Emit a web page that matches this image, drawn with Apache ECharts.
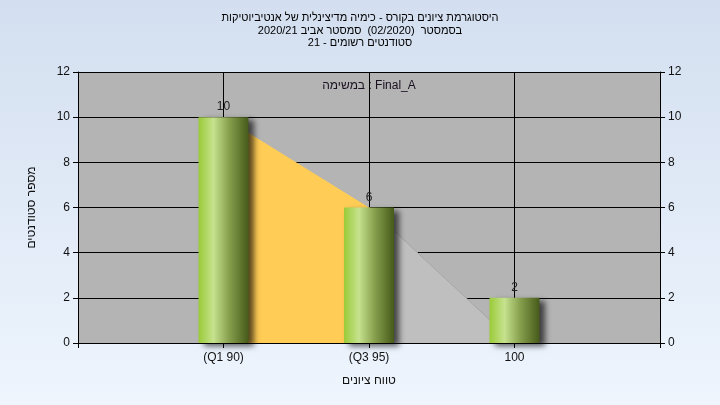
<!DOCTYPE html>
<html>
<head>
<meta charset="utf-8">
<script src="https://cdn.jsdelivr.net/npm/echarts@6/dist/echarts.min.js"></script>
<style>
html,body{margin:0;padding:0;}
#chart{width:720px;height:405px;}
</style>
</head>
<body>
<div id="chart"></div>
<script>
var titleLines = [
  'היסטוגרמת ציונים בקורס - כימיה מדיצינלית של אנטיביוטיקות',
  'בסמסטר  (02/2020)  סמסטר אביב 2020/21',
  'סטודנטים רשומים - 21'
];
var innerLabel = 'במשימה : Final_A';
var categories = ['', '(Q1 90)', '(Q3 95)', '100', ''];
var counts = [null, 10, 6, 2, null];
var areaYellow = [null, 10, 6, null, null];
var areaGray = [null, null, 6, 0, null];
var yTicks = { min: 0, max: 12, interval: 2 };
var xName = 'טווח ציונים';
var yName = 'מספר סטודנטים';

var FONT = 'Liberation Sans, DejaVu Sans, sans-serif';
var chart = echarts.init(document.getElementById('chart'));

function yAxisDef(pos) {
  return {
    type: 'value', position: pos,
    min: yTicks.min, max: yTicks.max, interval: yTicks.interval,
    name: pos === 'left' ? yName : '',
    nameLocation: 'middle', nameRotate: 90, nameGap: 40,
    nameTextStyle: { color: '#111', fontSize: 12, fontFamily: FONT },
    axisLine: { show: true, lineStyle: { color: '#000', width: 1 } },
    axisTick: { show: true, length: 5, lineStyle: { color: '#000' } },
    axisLabel: { color: '#111', fontSize: 12, fontFamily: FONT, margin: 8 },
    splitLine: { show: pos === 'left', lineStyle: { color: '#000', width: 1 } }
  };
}

var option = {
  backgroundColor: {
    type: 'linear', x: 0, y: 0, x2: 0, y2: 1,
    colorStops: [{ offset: 0, color: '#d3dff0' }, { offset: 1, color: '#eef5fd' }]
  },
  animation: false,
  title: {
    text: titleLines.join('\n'),
    left: 'center', top: 12, padding: 0,
    textStyle: { fontSize: 11, fontWeight: 'normal', color: '#000', fontFamily: FONT, lineHeight: 12.5 }
  },
  grid: { left: 78, right: 60, top: 72, bottom: 62, show: true, backgroundColor: '#b4b4b4', borderWidth: 0 },
  xAxis: {
    type: 'category', data: categories, boundaryGap: false,
    name: xName, nameLocation: 'middle', nameGap: 32,
    nameTextStyle: { color: '#111', fontSize: 12, fontFamily: FONT },
    axisLine: { show: true, lineStyle: { color: '#000', width: 1 } },
    axisTick: { show: true, length: 5, lineStyle: { color: '#000' } },
    axisLabel: { color: '#111', fontSize: 12, fontFamily: FONT, margin: 9, interval: 0 },
    splitLine: {
      show: true,
      interval: function (i) { return i >= 1 && i <= 3; },
      lineStyle: { color: '#000', width: 1 }
    }
  },
  yAxis: [yAxisDef('left'), yAxisDef('right')],
  graphic: [{
    type: 'text', x: 369, y: 86, z: 10,
    style: { text: innerLabel, fill: '#1a1020', font: '12px ' + FONT, align: 'center', verticalAlign: 'middle' }
  }],
  series: [
    {
      type: 'line', data: areaYellow, symbol: 'none', connectNulls: false,
      lineStyle: { width: 0 },
      areaStyle: { color: '#ffcc55', opacity: 1 }, z: 1
    },
    {
      type: 'line', data: areaGray, symbol: 'none', connectNulls: false,
      lineStyle: { width: 1, color: '#a6a6a6' },
      areaStyle: { color: '#bfbfbf', opacity: 1 }, z: 1
    },
    {
      type: 'bar', data: counts, barWidth: 50, z: 3,
      itemStyle: {
        color: {
          type: 'linear', x: 0, y: 0, x2: 1, y2: 0,
          colorStops: [
            { offset: 0, color: '#9acb38' },
            { offset: 0.3, color: '#c6e28e' },
            { offset: 0.62, color: '#859e4c' },
            { offset: 1, color: '#465a1a' }
          ]
        },
        shadowColor: 'rgba(0,0,0,0.65)', shadowBlur: 6, shadowOffsetX: 5, shadowOffsetY: 3
      },
      label: { show: true, position: 'top', distance: 4, color: '#222', fontSize: 12, fontFamily: FONT }
    }
  ]
};
chart.setOption(option);
</script>
</body>
</html>
